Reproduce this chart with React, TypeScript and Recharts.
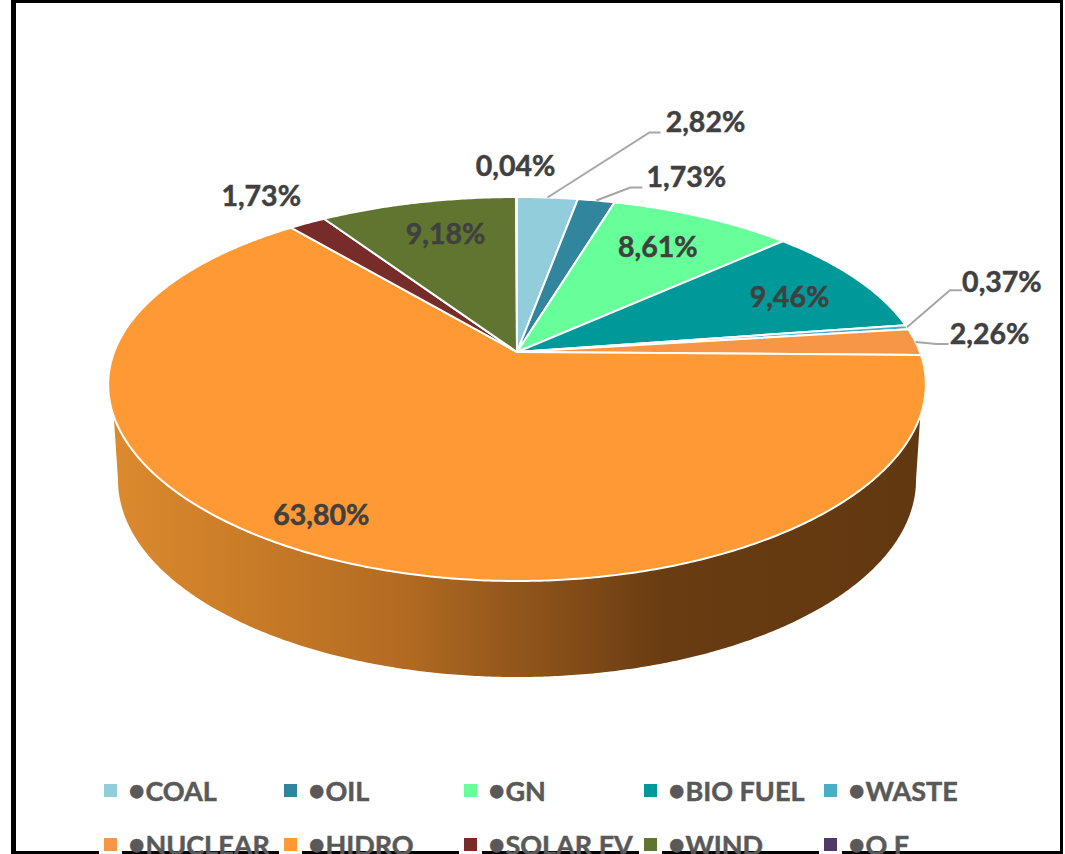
import { PieChart, Pie, Legend } from 'recharts'

const sources = ['COAL', 'OIL', 'GN', 'BIO FUEL', 'WASTE', 'NUCLEAR', 'HIDRO', 'SOLAR FV', 'WIND', 'O F']
const shares = [2.82, 1.73, 8.61, 9.46, 0.37, 2.26, 63.8, 1.73, 9.18, 0.04]
const colors = ['#92CDDC', '#31859C', '#66FF99', '#009999', '#4BACC6', '#F79646', '#FF9933', '#772C2A', '#5F7530', '#4F3A67']

// label placement relative to the slice's rim midpoint; leader = [elbow, end] when the label sits outside
const labelOffsets = [
  { dx: 158, dy: -77, leader: [[102, -65], [113, -65]] },
  { dx: 90, dy: -24, leader: [[34, -13], [46, -13]] },
  { dx: -45, dy: 29 },
  { dx: -66, dy: 18 },
  { dx: 95, dy: -46, leader: [[43, -37], [55, -37]] },
  { dx: 74, dy: -9, leader: [[21, 2], [33, 2]] },
  { dx: 11, dy: -40 },
  { dx: -46, dy: -28 },
  { dx: 28, dy: 31 },
  { dx: -1, dy: -32 },
]

const tableData = sources.map((name, i) => ({ name, value: shares[i], fill: colors[i] }))

const CX = 517
const CY = 352
const RADIUS = 409
const WALL_FROM = 109 // clockwise degrees from 12 o'clock where the side wall shows
const WALL_TO = 251

// perspective tilt: far edge squeezed, near edge stretched
const rimPoint = (clockDeg: number) => {
  const a = (clockDeg * Math.PI) / 180
  const u = Math.sin(a)
  const v = Math.cos(a)
  return [CX + (0.985 * RADIUS * u) / (1 + 0.17 * v), CY - (0.452 * RADIUS * v) / (1 + 0.1927 * v)]
}
const floorPoint = (clockDeg: number) => {
  const a = (clockDeg * Math.PI) / 180
  return [CX + 399 * Math.sin(a), 480 - 197 * Math.cos(a)]
}

const sampleRim = (from: number, to: number, fn: (d: number) => number[]) => {
  const pts: number[][] = []
  const steps = Math.max(2, Math.ceil(Math.abs(to - from) * 2))
  for (let i = 0; i <= steps; i++) pts.push(fn(from + ((to - from) * i) / steps))
  return pts
}
const toPath = (pts: number[][]) => pts.map((p, i) => `${i ? 'L' : 'M'}${p[0].toFixed(2)},${p[1].toFixed(2)}`).join(' ')

const SliceShape = (props: any) => {
  const from = 90 - props.startAngle
  const to = 90 - props.endAngle
  const top = `M${CX},${CY} ${toPath(sampleRim(from, to, rimPoint)).replace('M', 'L')} Z`

  let wall = null
  const wFrom = Math.max(from, WALL_FROM)
  const wTo = Math.min(to, WALL_TO)
  if (wTo > wFrom) {
    const rimEdge = sampleRim(wFrom, wTo, rimPoint)
    const floorEdge = sampleRim(Math.min(wTo + 19, 270), Math.max(wFrom - 19, 90), floorPoint)
    wall = <path d={`${toPath(rimEdge)} ${toPath(floorEdge).replace('M', 'L')} Z`} fill="url(#wallShade)" />
  }
  return (
    <g>
      {wall}
      <path d={top} fill={props.fill} stroke="#fff" strokeWidth={2} strokeLinejoin="round" />
    </g>
  )
}

const renderLabel = (props: any) => {
  const i = props.index
  const offs = labelOffsets[i]
  const [x, y] = rimPoint(90 - props.midAngle)
  const text = `${shares[i].toFixed(2).replace('.', ',')}%`
  return (
    <g key={sources[i]}>
      {offs.leader && (
        <polyline
          points={[[x, y], ...offs.leader.map((p) => [x + p[0], y + p[1]])].map((p) => p.join(',')).join(' ')}
          fill="none"
          stroke="#A6A6A6"
          strokeWidth={2}
        />
      )}
      <text
        x={x + offs.dx}
        y={y + offs.dy}
        textAnchor="middle"
        dominantBaseline="central"
        fontFamily="Lato"
        fontWeight={700}
        fontSize={28.5}
        fill="#404040"
        stroke="#404040"
        strokeWidth={0.5}
      >
        {text}
      </text>
    </g>
  )
}

const LegendRows = ({ payload }: any) => (
  <div style={{ display: 'grid', gridTemplateColumns: 'repeat(5, 180px)', gridAutoRows: 54 }}>
    {(payload ?? []).map((entry: any) => (
      <div key={entry.value} style={{ display: 'flex', alignItems: 'center', height: 54 }}>
        <span style={{ width: 23, height: 54, background: '#fff', display: 'flex', alignItems: 'center', justifyContent: 'center' }}>
          <span style={{ width: 13, height: 13, background: entry.color, display: 'block' }} />
        </span>
        <span style={{ marginLeft: 6, fontFamily: 'Lato', fontWeight: 700, fontSize: 27, color: '#595959', whiteSpace: 'nowrap', WebkitTextStroke: '0.5px #595959' }}>
          <span style={{ fontSize: 30, lineHeight: '20px' }}>•</span>
          {entry.value}
        </span>
      </div>
    ))}
  </div>
)

export default function App() {
  return (
    <div style={{ position: 'absolute', left: 0, top: 0, width: 1065, height: 854, overflow: 'hidden', background: '#fff' }}>
      {/* frame */}
      <div style={{ position: 'absolute', left: 11, top: 0, width: 1052, height: 854, boxSizing: 'border-box', borderStyle: 'solid', borderColor: '#000', borderWidth: '3px 3px 3px 5px' }} />
      <div style={{ position: 'absolute', left: 0, top: 0 }}>
        <PieChart width={1065} height={854}>
          <defs>
            <linearGradient id="wallShade" gradientUnits="userSpaceOnUse" x1={110} y1={0} x2={924} y2={0}>
              <stop offset="0" stopColor="#DC8A2D" />
              <stop offset="0.35" stopColor="#B46C22" />
              <stop offset="0.68" stopColor="#693C12" />
              <stop offset="1" stopColor="#623810" />
            </linearGradient>
          </defs>
          <Pie
            data={tableData}
            dataKey="value"
            nameKey="name"
            cx={CX}
            cy={CY}
            outerRadius={RADIUS}
            startAngle={90}
            endAngle={-270}
            shape={SliceShape}
            label={renderLabel}
            labelLine={false}
            isAnimationActive={false}
          />
          <Legend
            content={LegendRows}
            itemSorter={null}
            wrapperStyle={{ left: 99, top: 763, bottom: 'auto', width: 900 }}
          />
        </PieChart>
      </div>
    </div>
  )
}
